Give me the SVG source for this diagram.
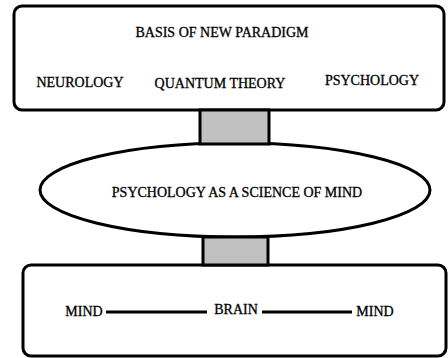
<svg xmlns="http://www.w3.org/2000/svg" width="448" height="358" viewBox="0 0 448 358">
<style>
.box{fill:#fff;stroke:#000;stroke-width:3}
.bar{fill:#c0c0c0;stroke:#000;stroke-width:3}
.ln{stroke:#000;stroke-width:3;fill:none}
</style>
<rect width="448" height="358" fill="#fff"/>
<g font-family="Liberation Serif" font-size="14" fill="#000" stroke="#000" stroke-width="0.3" text-anchor="middle">
<g id="basis">
<rect class="box" x="14" y="6" width="430" height="104" rx="8"/>
<text x="222" y="37">BASIS OF NEW PARADIGM</text>
<text x="80" y="87">NEUROLOGY</text>
<text x="220" y="88">QUANTUM THEORY</text>
<text x="372" y="85">PSYCHOLOGY</text>
</g>
<g id="psychology">
<ellipse class="box" cx="235" cy="190" rx="195" ry="47"/>
<text x="237" y="197">PSYCHOLOGY AS A SCIENCE OF MIND</text>
</g>
<g id="mindbrain">
<rect class="box" x="23" y="265" width="423" height="91" rx="8"/>
<text x="84" y="316">MIND</text>
<text x="236" y="314">BRAIN</text>
<text x="375" y="316">MIND</text>
</g>
</g>
<g id="connectors">
<rect class="bar" x="200" y="110" width="69" height="34"/>
<rect class="bar" x="203" y="237" width="65" height="28"/>
<line class="ln" x1="106" y1="312" x2="207" y2="312"/>
<line class="ln" x1="262" y1="312" x2="352" y2="312"/>
</g>
</svg>
